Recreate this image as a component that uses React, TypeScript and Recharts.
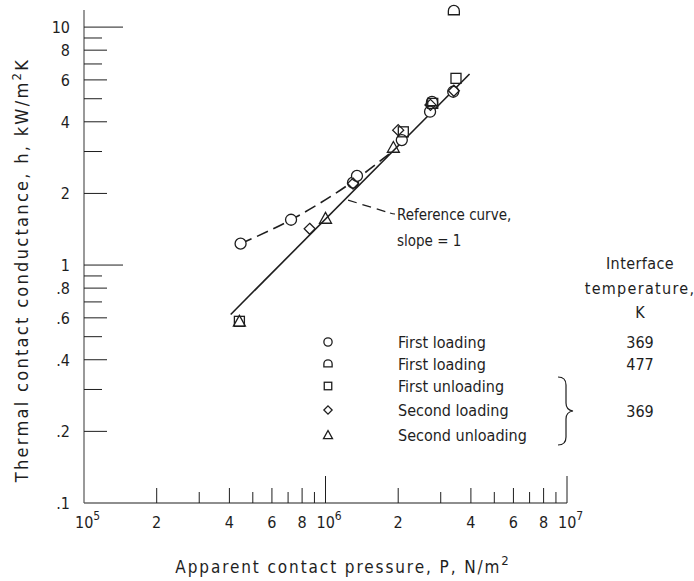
import { ScatterChart, Scatter, XAxis, YAxis, ReferenceLine } from 'recharts';

const FONT = "'Liberation Sans Narrow', 'DejaVu Sans Condensed', 'Liberation Sans', sans-serif";
const INK = '#1e1e1e';

// apparent contact pressure P (N/m^2) vs thermal contact conductance h (kW/m^2 K)
const firstLoading369 = [
  { p: 4.45e5, h: 1.23 },
  { p: 7.2e5, h: 1.55 },
  { p: 1.3e6, h: 2.22 },
  { p: 1.35e6, h: 2.37 },
  { p: 2.07e6, h: 3.35 },
  { p: 2.71e6, h: 4.41 },
  { p: 3.38e6, h: 5.35 },
];
const firstLoading477 = [
  { p: 3.4e6, h: 11.7 },
  { p: 2.76e6, h: 4.85 },
];
const firstUnloading = [
  { p: 4.4e5, h: 0.58 },
  { p: 2.1e6, h: 3.63 },
  { p: 2.78e6, h: 4.78 },
  { p: 3.47e6, h: 6.09 },
];
const secondLoading = [
  { p: 8.6e5, h: 1.42 },
  { p: 1.3e6, h: 2.2 },
  { p: 2.0e6, h: 3.69 },
  { p: 2.72e6, h: 4.71 },
  { p: 3.4e6, h: 5.4 },
];
const secondUnloading = [
  { p: 4.4e5, h: 0.58 },
  { p: 1.0e6, h: 1.57 },
  { p: 1.91e6, h: 3.12 },
];

// slope = 1 reference line and the dashed curve through the first loading
const slopeOneLine = [
  { p: 4.05e5, h: 0.62 },
  { p: 3.95e6, h: 6.35 },
];
const referenceCurve = [
  { p: 4.45e5, h: 1.23 },
  { p: 7.2e5, h: 1.55 },
  { p: 1.32e6, h: 2.27 },
  { p: 1.85e6, h: 2.95 },
];
const leader = [
  { x: 1.24e6, y: 1.875 },
  { x: 1.85e6, y: 1.654 },
];

const xTicks = [
  1e5, 2e5, 3e5, 4e5, 5e5, 6e5, 7e5, 8e5, 9e5,
  1e6, 2e6, 3e6, 4e6, 5e6, 6e6, 7e6, 8e6, 9e6, 1e7,
];
const xLabelled = [1e5, 2e5, 4e5, 6e5, 8e5, 1e6, 2e6, 4e6, 6e6, 8e6, 1e7];
const yTicks = [
  0.1, 0.2, 0.3, 0.4, 0.5, 0.6, 0.7, 0.8, 0.9,
  1, 2, 3, 4, 5, 6, 7, 8, 9, 10,
];
const yLabelled = [0.1, 0.2, 0.4, 0.6, 0.8, 1, 2, 4, 6, 8, 10];

const legendRows = [
  { shape: 'circle', label: 'First loading', temp: '369' },
  { shape: 'dome', label: 'First loading', temp: '477' },
  { shape: 'square', label: 'First unloading', temp: '' },
  { shape: 'diamond', label: 'Second loading', temp: '369' },
  { shape: 'triangle', label: 'Second unloading', temp: '' },
];

function Mark({ kind, cx, cy, s = 1, fill = 'none' }: any) {
  const sw = 1.3;
  if (kind === 'circle') return <circle cx={cx} cy={cy} r={5.5 * s} fill={fill} stroke={INK} strokeWidth={sw} />;
  if (kind === 'square') {
    const a = 5 * s;
    return <rect x={cx - a} y={cy - a} width={2 * a} height={2 * a} fill={fill} stroke={INK} strokeWidth={sw} />;
  }
  if (kind === 'diamond') {
    const a = 5.5 * s;
    return <path d={`M${cx},${cy - a}L${cx + a},${cy}L${cx},${cy + a}L${cx - a},${cy}Z`} fill={fill} stroke={INK} strokeWidth={sw} />;
  }
  if (kind === 'triangle') {
    const a = 6 * s;
    return <path d={`M${cx},${cy - a}L${cx + a},${cy + a * 0.8}L${cx - a},${cy + a * 0.8}Z`} fill={fill} stroke={INK} strokeWidth={sw} />;
  }
  // dome: flat bottom, round top
  const a = 5.5 * s;
  return (
    <path
      d={`M${cx - a},${cy + a * 0.7}L${cx - a},${cy}A${a},${a} 0 0 1 ${cx + a},${cy}L${cx + a},${cy + a * 0.7}Z`}
      fill={fill}
      stroke={INK}
      strokeWidth={sw}
    />
  );
}

const fmtY = (v: number) => (v < 1 ? '.' + Math.round(v * 10) : String(v));

function YTick({ x, y, payload }: any) {
  const v = payload.value;
  const labelled = yLabelled.includes(v);
  const len = v === 1 || v === 10 ? 39 : labelled ? 23 : 18;
  return (
    <g>
      {v !== 0.1 && <line x1={x} x2={x + len} y1={y} y2={y} stroke={INK} strokeWidth={1} />}
      {labelled && (
        <text x={x - 14} y={y + 6} textAnchor="end" fontSize={16} fontFamily={FONT} fill={INK}>
          {fmtY(v)}
        </text>
      )}
    </g>
  );
}

function XTick({ x, y, payload }: any) {
  const v = payload.value;
  const exp = Math.floor(Math.log10(v) + 1e-9);
  const decade = Math.abs(v - Math.pow(10, exp)) < v * 1e-6;
  const labelled = xLabelled.includes(v);
  const len = decade ? 27 : labelled ? 15 : 11;
  return (
    <g>
      {v !== 1e5 && <line x1={x} x2={x} y1={y} y2={y - len} stroke={INK} strokeWidth={1} />}
      {labelled &&
        (decade ? (
          <text x={x - 9} y={y + 25} fontSize={16} fontFamily={FONT} fill={INK}>
            10
            <tspan dy={-8} fontSize={12}>
              {exp}
            </tspan>
          </text>
        ) : (
          <text x={x} y={y + 25} textAnchor="middle" fontSize={16} fontFamily={FONT} fill={INK}>
            {String(Math.round(v / Math.pow(10, exp)))}
          </text>
        ))}
    </g>
  );
}

const dot = (kind: string, fill = 'none') => (props: any) => <Mark kind={kind} cx={props.cx} cy={props.cy} fill={fill} />;
const noDot = () => <g />;

export default function App() {
  const rowY = [342, 364, 386, 410, 435];
  return (
    <div style={{ position: 'absolute', left: 0, top: 0, width: 694, height: 581, background: '#fff' }}>
      <ScatterChart width={694} height={581} margin={{ top: 10, right: 127, bottom: 0, left: 0 }}>
        <XAxis
          dataKey="p"
          type="number"
          scale="log"
          domain={[1e5, 1e7]}
          ticks={xTicks}
          interval={0}
          tick={<XTick />}
          tickLine={false}
          tickSize={0}
          tickMargin={0}
          height={78}
          axisLine={{ stroke: INK, strokeWidth: 1.2 }}
        />
        <YAxis
          dataKey="h"
          type="number"
          scale="log"
          domain={[0.1, 11.8]}
          ticks={yTicks}
          interval={0}
          tick={<YTick />}
          tickLine={false}
          tickSize={0}
          tickMargin={0}
          width={84}
          axisLine={{ stroke: '#555', strokeWidth: 1.2 }}
        />
        <ReferenceLine
          segment={leader}
          stroke={INK}
          strokeWidth={1.3}
          strokeDasharray="9 6"
        />
        <Scatter
          data={slopeOneLine}
          line={{ stroke: INK, strokeWidth: 1.6 }}
          shape={noDot}
          isAnimationActive={false}
        />
        <Scatter
          data={referenceCurve}
          line={{ stroke: INK, strokeWidth: 1.6, strokeDasharray: '12 6' }}
          lineJointType="monotoneX"
          shape={noDot}
          isAnimationActive={false}
        />
        <Scatter data={firstLoading369} shape={dot('circle', '#fff')} isAnimationActive={false} />
        <Scatter data={firstUnloading} shape={dot('square')} isAnimationActive={false} />
        <Scatter data={secondLoading} shape={dot('diamond')} isAnimationActive={false} />
        <Scatter data={secondUnloading} shape={dot('triangle')} isAnimationActive={false} />
        <Scatter data={firstLoading477} shape={dot('dome')} isAnimationActive={false} />
      </ScatterChart>
      <svg
        width={694}
        height={581}
        style={{ position: 'absolute', left: 0, top: 0, pointerEvents: 'none' }}
        fontFamily={FONT}
        fill={INK}
      >
        <text transform="rotate(-90)" x={-270} y={28} textAnchor="middle" fontSize={18} letterSpacing={2.3}>
          Thermal contact conductance, h, kW/m
          <tspan dy={-7} fontSize={13}>2</tspan>
          <tspan dy={7}>K</tspan>
        </text>
        <text x={343} y={573} textAnchor="middle" fontSize={17} letterSpacing={1.9}>
          Apparent contact pressure,  P,  N/m
          <tspan dy={-8} fontSize={13}>2</tspan>
        </text>
        <path d="M390,213 Q393,214 395,214" stroke={INK} fill="none" strokeWidth={1.2} />
        <text x={397} y={220} fontSize={15}>Reference curve,</text>
        <text x={397} y={246} fontSize={15}>slope = 1</text>
        <text x={640} y={269} textAnchor="middle" fontSize={16} letterSpacing={0.4}>Interface</text>
        <text x={640} y={294} textAnchor="middle" fontSize={16} letterSpacing={1.3}>temperature,</text>
        <text x={640} y={318} textAnchor="middle" fontSize={16}>K</text>
        {legendRows.map((r, i) => (
          <g key={i}>
            <Mark kind={r.shape} cx={328} cy={rowY[i]} s={0.75} />
            <text x={398} y={rowY[i] + 6} fontSize={16}>{r.label}</text>
            {r.temp && (
              <text x={640} y={(i === 3 ? rowY[i] + 1 : rowY[i]) + 6} textAnchor="middle" fontSize={16}>
                {r.temp}
              </text>
            )}
          </g>
        ))}
        <path
          d="M558,377 Q566,377 566,385 L566,403 Q566,410 573,411 Q566,412 566,419 L566,437 Q566,445 558,445"
          stroke={INK}
          fill="none"
          strokeWidth={1.2}
        />
      </svg>
    </div>
  );
}
